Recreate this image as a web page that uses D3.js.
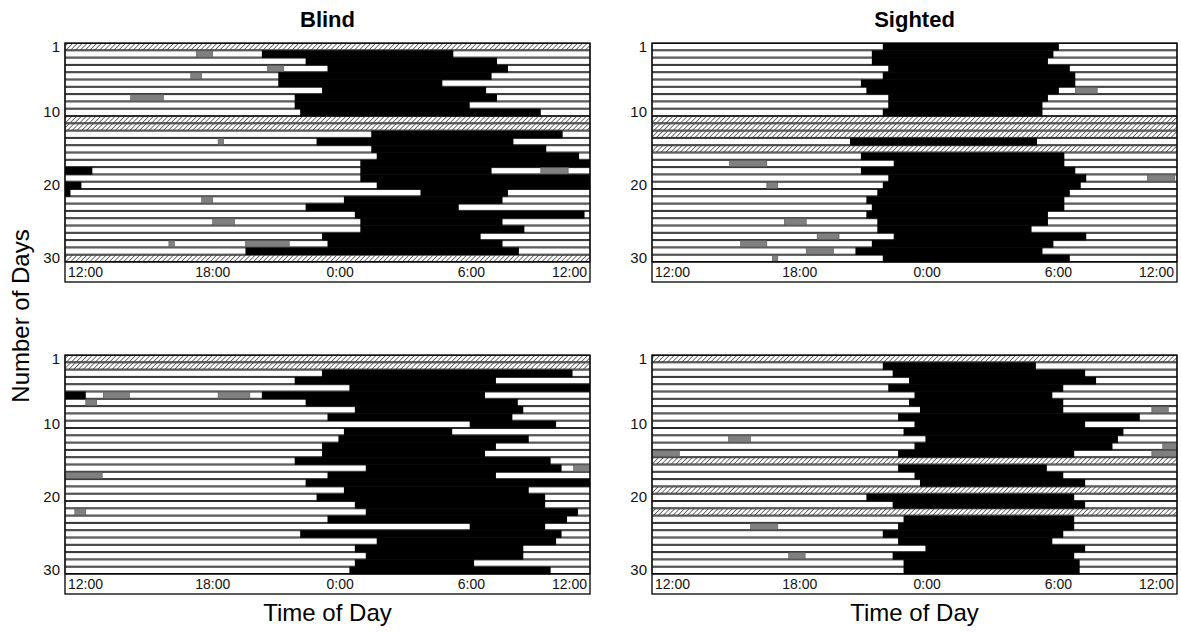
<!DOCTYPE html>
<html>
<head>
<meta charset="utf-8">
<script src="https://cdn.jsdelivr.net/npm/d3@7/dist/d3.min.js"></script>
<style>
  body { margin: 0; background: #fff; }
  svg { display: block; font-family: "Liberation Sans", Arial, sans-serif; }
</style>
</head>
<body>
<div id="chart"></div>
<script>
// time in hours after 12:00 noon (0..24); null = missing day (hatched)
// segment: [start, end, kind]  s = sleep (black), g = grey
const timeTicks = [0, 6, 12, 18, 24];
const timeLabels = ["12:00", "18:00", "0:00", "6:00", "12:00"];
const dayTicks = [1, 10, 20, 30];

const blindTop = [
  null,
  [[6.0,6.75,"g"],[9.0,17.75,"s"]],
  [[11.0,19.75,"s"]],
  [[9.25,10.0,"g"],[12.0,20.25,"s"]],
  [[5.75,6.25,"g"],[9.75,19.5,"s"]],
  [[9.75,17.25,"s"]],
  [[11.75,19.25,"s"]],
  [[3.0,4.5,"g"],[10.5,19.75,"s"]],
  [[10.5,18.5,"s"]],
  [[10.75,21.75,"s"]],
  null,
  null,
  [[14.0,22.75,"s"]],
  [[7.0,7.25,"g"],[11.5,20.5,"s"]],
  [[14.0,22.0,"s"]],
  [[14.25,23.5,"s"]],
  [[13.5,24,"s"]],
  [[0,1.25,"s"],[13.5,19.5,"s"],[21.75,23.0,"g"]],
  [[13.5,24,"s"]],
  [[0,0.75,"s"],[14.25,24,"s"]],
  [[0,0.25,"s"],[16.25,20.25,"s"]],
  [[6.25,6.75,"g"],[12.75,20.0,"s"]],
  [[11.0,18.0,"s"]],
  [[13.25,23.75,"s"]],
  [[6.75,7.75,"g"],[13.5,20.0,"s"]],
  [[13.5,21.0,"s"]],
  [[11.75,19.0,"s"]],
  [[4.75,5.0,"g"],[8.25,10.25,"g"],[12.0,20.0,"s"]],
  [[8.25,20.75,"s"]],
  null
];

const sightedTop = [
  [[10.55,18.6,"s"]],
  [[10.05,18.35,"s"]],
  [[10.05,18.1,"s"]],
  [[10.8,19.1,"s"]],
  [[10.55,19.35,"s"]],
  [[9.55,19.35,"s"]],
  [[9.8,18.6,"s"],[19.35,20.35,"g"]],
  [[10.8,18.1,"s"]],
  [[10.8,17.85,"s"]],
  [[10.55,17.85,"s"]],
  null,
  null,
  null,
  [[9.05,17.6,"s"]],
  null,
  [[9.55,18.85,"s"]],
  [[3.55,5.25,"g"],[11.05,18.85,"s"]],
  [[9.55,19.35,"s"]],
  [[10.8,19.85,"s"],[22.65,23.9,"g"]],
  [[5.25,5.75,"g"],[10.55,19.6,"s"]],
  [[10.3,19.1,"s"]],
  [[9.8,18.85,"s"]],
  [[10.05,18.85,"s"]],
  [[9.8,18.1,"s"]],
  [[6.05,7.05,"g"],[10.3,18.1,"s"]],
  [[10.3,17.35,"s"]],
  [[7.55,8.55,"g"],[11.05,19.85,"s"]],
  [[4.05,5.25,"g"],[10.05,18.35,"s"]],
  [[7.05,8.3,"g"],[9.3,17.85,"s"]],
  [[5.5,5.75,"g"],[10.55,19.1,"s"]]
];

const blindBottom = [
  null,
  null,
  [[11.75,23.2,"s"]],
  [[10.5,19.7,"s"]],
  [[13.0,24,"s"]],
  [[0,0.95,"s"],[1.75,2.95,"g"],[7.0,8.45,"g"],[9.0,19.2,"s"]],
  [[0.95,1.45,"g"],[11.0,20.7,"s"]],
  [[13.25,20.95,"s"]],
  [[12.0,20.45,"s"]],
  [[18.5,22.45,"s"]],
  [[12.75,17.7,"s"]],
  [[12.5,21.2,"s"]],
  [[11.75,19.7,"s"]],
  [[11.75,19.2,"s"]],
  [[10.5,22.2,"s"]],
  [[13.75,22.7,"s"],[23.25,24,"g"]],
  [[0,1.7,"g"],[12.0,19.7,"s"]],
  [[11.0,24,"s"]],
  [[12.75,21.2,"s"]],
  [[11.5,21.95,"s"]],
  [[13.25,21.95,"s"]],
  [[0.45,0.95,"g"],[13.75,23.45,"s"]],
  [[12.0,22.95,"s"]],
  [[18.5,21.95,"s"]],
  [[10.75,22.7,"s"]],
  [[14.25,22.45,"s"]],
  [[13.25,20.95,"s"]],
  [[13.75,20.95,"s"]],
  [[13.25,18.7,"s"]],
  [[13.0,22.2,"s"]]
];

const sightedBottom = [
  null,
  [[10.55,17.55,"s"]],
  [[11.0,19.8,"s"]],
  [[11.75,20.3,"s"]],
  [[10.8,18.8,"s"]],
  [[12.0,18.3,"s"]],
  [[11.75,18.8,"s"]],
  [[12.25,18.8,"s"],[22.85,23.6,"g"]],
  [[11.25,22.3,"s"]],
  [[12.0,19.8,"s"]],
  [[11.5,21.55,"s"]],
  [[3.5,4.5,"g"],[12.5,21.3,"s"]],
  [[12.0,21.05,"s"],[23.35,24,"g"]],
  [[0,1.25,"g"],[11.25,19.3,"s"],[22.85,24,"g"]],
  null,
  [[11.25,18.05,"s"]],
  [[12.0,18.8,"s"]],
  [[12.25,19.8,"s"]],
  null,
  [[9.8,19.3,"s"]],
  [[11.0,19.8,"s"]],
  null,
  [[11.5,19.3,"s"]],
  [[4.5,5.75,"g"],[11.25,19.3,"s"]],
  [[10.55,18.8,"s"]],
  [[11.25,18.3,"s"]],
  [[12.5,19.8,"s"]],
  [[6.25,7.0,"g"],[11.0,19.3,"s"]],
  [[11.5,19.55,"s"]],
  [[11.5,19.55,"s"]]
];

let width = 1181, height = 632;

let svg = d3.select("#chart")
        .append("svg")
        .attr("width", width)
        .attr("height", height);

let defs = svg.append("defs");
let hatch = defs.append("pattern")
    .attr("id", "hatch")
    .attr("patternUnits", "userSpaceOnUse")
    .attr("width", 3.4)
    .attr("height", 3.4)
    .attr("patternTransform", "rotate(45)");
hatch.append("rect").attr("width", 3.4).attr("height", 3.4).attr("fill", "#fff");
hatch.append("line")
    .attr("x1", 0).attr("y1", 0).attr("x2", 0).attr("y2", 3.4)
    .attr("stroke", "#3a3a3a").attr("stroke-width", 1.4);

function drawPanel(rows, x0, x1, y0, y1) {
  let bandH = 20;
  let x = d3.scaleLinear().domain([0, 24]).range([x0, x1]);
  let y = d3.scaleBand().domain(d3.range(rows.length)).range([y0, y1]);
  let bw = y.bandwidth();
  let g = svg.append("g");

  // row backgrounds
  g.selectAll(".row")
      .data(rows)
    .enter().append("rect")
      .attr("class", "row")
      .attr("x", x(0))
      .attr("y", function(d,i){ return y(i) + 0.5; })
      .attr("width", x(24) - x(0))
      .attr("height", bw - 1)
      .attr("fill", function(d){ return d == null ? "url(#hatch)" : "#fff"; })
      .attr("stroke", "#2a2a2a")
      .attr("stroke-width", 1);

  // segments
  let segs = [];
  rows.forEach(function(r, i){
    if (r == null) return;
    r.forEach(function(s){ segs.push({row: i, start: s[0], end: s[1], kind: s[2]}); });
  });

  g.selectAll(".sleep")
      .data(segs.filter(function(d){ return d.kind == "s"; }))
    .enter().append("rect")
      .attr("class", "sleep")
      .attr("x", function(d){ return x(d.start); })
      .attr("y", function(d){ return y(d.row); })
      .attr("width", function(d){ return x(d.end) - x(d.start); })
      .attr("height", bw + 0.3)
      .attr("fill", "#000");

  g.selectAll(".grey")
      .data(segs.filter(function(d){ return d.kind == "g"; }))
    .enter().append("rect")
      .attr("class", "grey")
      .attr("x", function(d){ return x(d.start); })
      .attr("y", function(d){ return y(d.row) + 0.5; })
      .attr("width", function(d){ return x(d.end) - x(d.start); })
      .attr("height", bw - 1)
      .attr("fill", "#808080")
      .attr("stroke", "#555")
      .attr("stroke-width", 0.6);

  // frame
  g.append("rect")
      .attr("x", x0).attr("y", y0)
      .attr("width", x1 - x0).attr("height", y1 - y0 + bandH)
      .attr("fill", "none")
      .attr("stroke", "#000")
      .attr("stroke-width", 1.3);
  g.append("line")
      .attr("x1", x0).attr("x2", x1)
      .attr("y1", y1).attr("y2", y1)
      .attr("stroke", "#000")
      .attr("stroke-width", 1.6);

  // time labels inside the band
  g.selectAll(".tlabel")
      .data(timeTicks)
    .enter().append("text")
      .attr("class", "tlabel")
      .attr("x", function(d,i){
        if (i == 0) return x(d) + 3;
        if (i == timeTicks.length - 1) return x(d) - 3;
        return x(d) - 1;
      })
      .attr("y", y1 + 15)
      .style("text-anchor", function(d,i){ return i == timeTicks.length - 1 ? "end" : "start"; })
      .style("font-size", "14px")
      .attr("fill", "#111")
      .text(function(d,i){ return timeLabels[i]; });

  // day labels
  g.selectAll(".dlabel")
      .data(dayTicks)
    .enter().append("text")
      .attr("class", "dlabel")
      .attr("x", x0 - 5)
      .attr("y", function(d){ return y(d - 1) + bw / 2 + 5; })
      .style("text-anchor", "end")
      .style("font-size", "15px")
      .attr("fill", "#111")
      .text(function(d){ return d; });
}

drawPanel(blindTop, 65, 590, 43, 262);
drawPanel(sightedTop, 652, 1177, 43, 262);
drawPanel(blindBottom, 65, 590, 355, 574);
drawPanel(sightedBottom, 652, 1177, 355, 574);

// titles
svg.append("text").attr("x", 327.5).attr("y", 27)
    .style("text-anchor", "middle").style("font-size", "22px").style("font-weight", "bold")
    .text("Blind");
svg.append("text").attr("x", 914.5).attr("y", 27)
    .style("text-anchor", "middle").style("font-size", "22px").style("font-weight", "bold")
    .text("Sighted");

svg.append("text").attr("x", 327.5).attr("y", 621)
    .style("text-anchor", "middle").style("font-size", "24px")
    .text("Time of Day");
svg.append("text").attr("x", 914.5).attr("y", 621)
    .style("text-anchor", "middle").style("font-size", "24px")
    .text("Time of Day");

svg.append("text")
    .attr("transform", "translate(29,316) rotate(-90)")
    .style("text-anchor", "middle").style("font-size", "24px")
    .text("Number of Days");
</script>
</body>
</html>
